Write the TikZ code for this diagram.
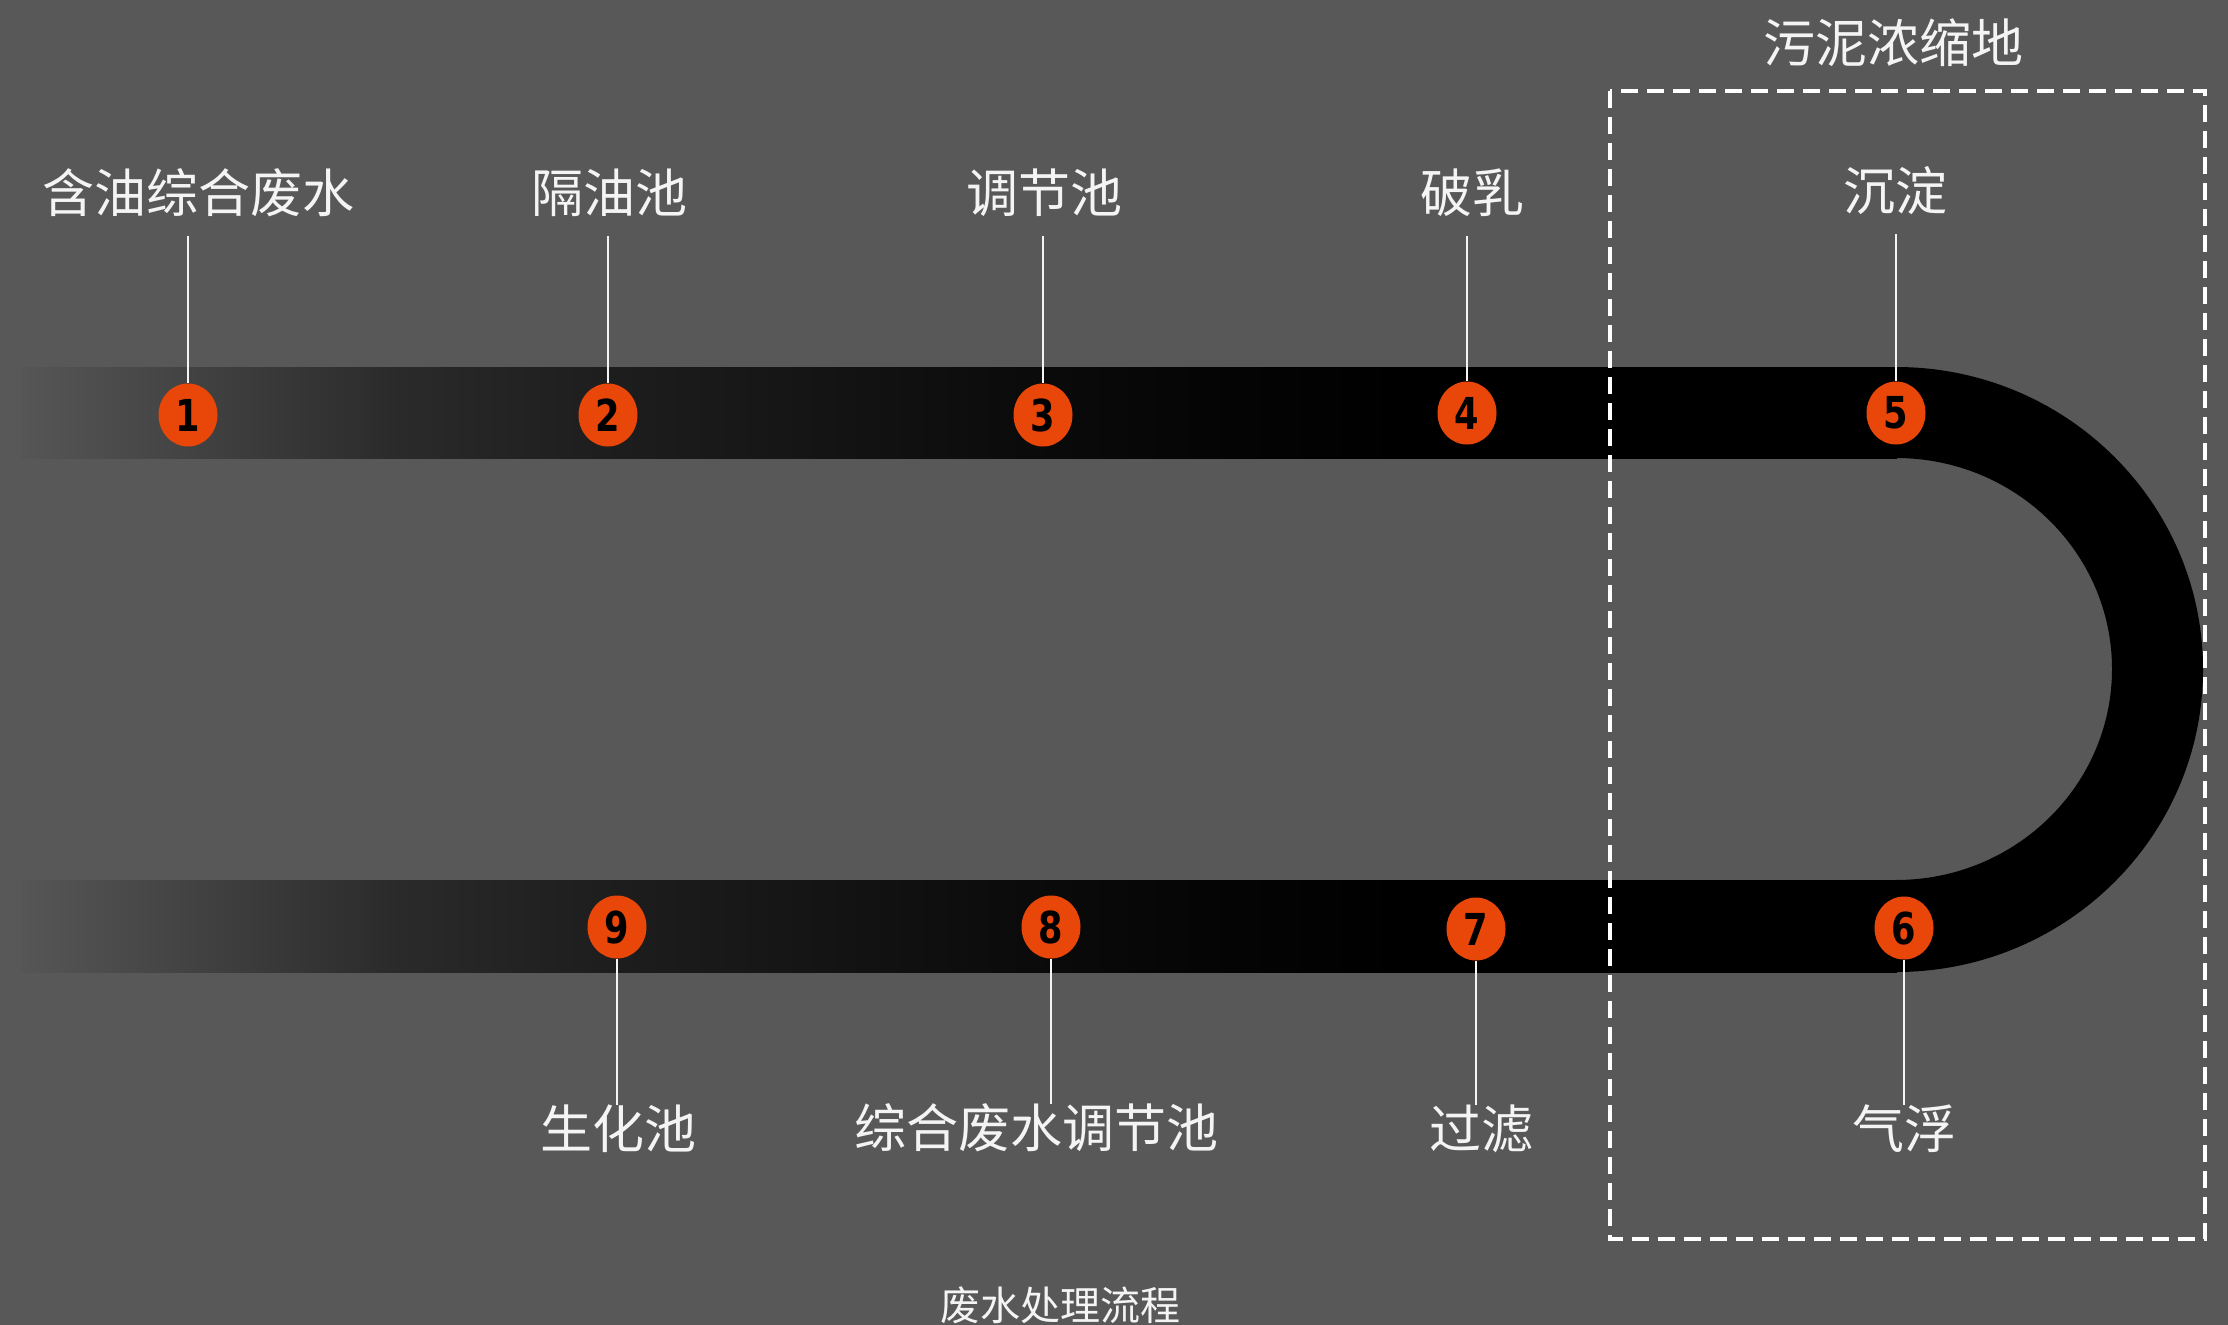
\documentclass[tikz,border=0pt]{standalone}
\usepackage{fontspec}
\newfontfamily\cjk{Noto Sans CJK SC}
\newfontfamily\numfont[FakeStretch=0.8]{DejaVu Sans}
\usetikzlibrary{shapes.geometric}
\definecolor{bg}{HTML}{585858}
\definecolor{dotc}{HTML}{E84709}
\definecolor{txt}{HTML}{F4F4F4}
\definecolor{g0}{RGB}{86,86,86}
\definecolor{g1}{RGB}{42,42,42}
\definecolor{g2}{RGB}{30,30,30}
\definecolor{g3}{RGB}{21,21,21}
\definecolor{g4}{RGB}{12,12,12}
\definecolor{g5}{RGB}{5,5,5}
\pgfdeclarehorizontalshading{bandfade}{100bp}{color(0bp)=(g0); color(25bp)=(g0); color(35.1bp)=(g1); color(40.4bp)=(g2); color(45.8bp)=(g3); color(51.1bp)=(g4); color(56.4bp)=(g5); color(61.8bp)=(black); color(100bp)=(black)}
\tikzset{
  dotnode/.style={ellipse, fill=dotc, minimum width=59pt, minimum height=63pt, inner sep=0pt,
    text=black, font=\numfont\bfseries\fontsize{44}{44}\selectfont},
  lbl/.style={text=txt, inner sep=0pt, font=\cjk\fontsize{52}{60}\selectfont},
  lead/.style={draw=txt, line width=2.5pt},
  zone/.style={draw=white, line width=4.5pt, dash pattern=on 17pt off 9pt},
}
\begin{document}
\begin{tikzpicture}[x=1pt,y=-1pt]
\fill[bg] (0,0) rectangle (2228,1325);
\useasboundingbox (0,0) rectangle (2228,1325);
% bands
\shade[shading=bandfade] (21,367) rectangle (1897,458);
\shade[shading=bandfade] (21,880) rectangle (1897,972);
\fill[black] (1896,367) arc[start angle=-90, end angle=90, x radius=307, y radius=302.5]
  -- (1896,880) arc[start angle=90, end angle=-90, x radius=216, y radius=211] -- cycle;
% dashed zone
\draw[zone] (1610,91) rectangle (2205,1239);
% titles
\node[lbl] (zt) at (1893,43) {污泥浓缩地};
\node[lbl, font=\cjk\fontsize{40}{46}\selectfont] (ttl) at (1060,1305) {废水处理流程};
% circles
\node[dotnode] (c1) at (188,415) {1};
\node[dotnode] (c2) at (608,415) {2};
\node[dotnode] (c3) at (1043,415) {3};
\node[dotnode] (c4) at (1467,413) {4};
\node[dotnode] (c5) at (1896,413) {5};
\node[dotnode] (c6) at (1904,928) {6};
\node[dotnode] (c7) at (1476,929) {7};
\node[dotnode] (c8) at (1051,927) {8};
\node[dotnode] (c9) at (617,927) {9};
% labels
\node[lbl] (l1) at (198,193) {含油综合废水};
\node[lbl] (l2) at (609,193) {隔油池};
\node[lbl] (l3) at (1044,193) {调节池};
\node[lbl] (l4) at (1472,193) {破乳};
\node[lbl] (l5) at (1895,191) {沉淀};
\node[lbl] (l6) at (1904,1129) {气浮};
\node[lbl] (l7) at (1481,1129) {过滤};
\node[lbl] (l8) at (1036,1128) {综合废水调节池};
\node[lbl] (l9) at (618,1129) {生化池};
% leader lines
\foreach \i in {1,...,5}{
  \draw[lead, shorten <=19pt] (l\i.south -| c\i.center) -- (c\i.north);
}
\foreach \i in {6,...,9}{
  \draw[lead] (c\i.south) -- (c\i.center |- l\i.north);
}
\end{tikzpicture}
\end{document}
